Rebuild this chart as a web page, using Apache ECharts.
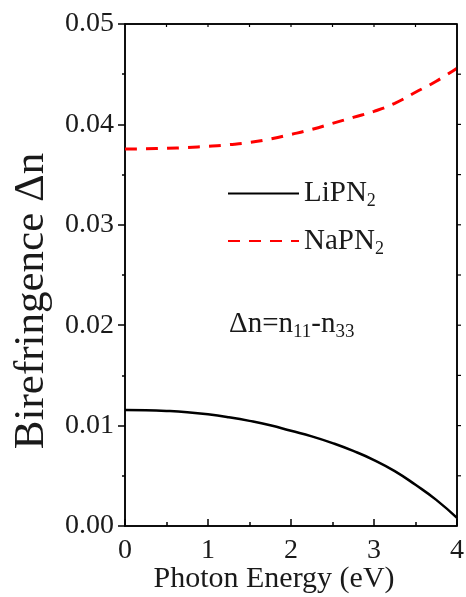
<!DOCTYPE html>
<html><head><meta charset="utf-8">
<script src="https://cdn.jsdelivr.net/npm/echarts@6/dist/echarts.min.js"></script>
<style>html,body{margin:0;padding:0;background:#fff}#c{width:466px;height:597px}</style>
</head><body><div id="c"></div>
<script>
const energy = [0, 0.25, 0.5, 0.75, 1, 1.25, 1.5, 1.75, 2, 2.25, 2.5, 2.75, 3, 3.25, 3.5, 3.75, 4];
const liPN2 = [0.01155, 0.01153, 0.01146, 0.01133, 0.01112, 0.01083, 0.01047, 0.01003, 0.00948, 0.00893, 0.00826, 0.00748, 0.00657, 0.00547, 0.00410, 0.00260, 0.00080];
const naPN2 = [0.03755, 0.03757, 0.03762, 0.03770, 0.03782, 0.03798, 0.03820, 0.03855, 0.03900, 0.03950, 0.04010, 0.04070, 0.04130, 0.04210, 0.04320, 0.04430, 0.04560];
const xTicks = [0, 1, 2, 3, 4];
const yTicks = ['0.00', '0.01', '0.02', '0.03', '0.04', '0.05'];
const topTicks = [0.5, 1, 1.5, 2, 2.5, 3, 3.5];
const rightTicks = [0.005, 0.01, 0.015, 0.02, 0.025, 0.03, 0.035, 0.04, 0.045];
const xMax = 4;
const yMax = 0.05;

const FONT = 'Liberation Serif';
const TXT = '#1a1a1a';
const chart = echarts.init(document.getElementById('c'));
chart.setOption({
  animation: false,
  textStyle: {fontFamily: FONT, color: TXT},
  grid: {left: 125, top: 24, right: 9, bottom: 71, outerBoundsMode: 'none',
    show: true, borderColor: '#000', borderWidth: 1.5},
  legend: {
    orient: 'vertical', left: 222, top: 174, itemWidth: 71, itemHeight: 20, itemGap: 16,
    data: ['LiPN2', 'NaPN2'],
    itemStyle: {color: 'rgba(0,0,0,0)', borderWidth: 0, opacity: 0},
    formatter: n => n.replace('2', '{s|2}'),
    textStyle: {fontFamily: FONT, fontSize: 29, color: TXT,
      rich: {s: {fontFamily: FONT, fontSize: 18, verticalAlign: 'bottom', padding: [16, 0, 0, 0], color: TXT}}}
  },
  xAxis: {
    type: 'value', min: 0, max: xMax, interval: 1,
    name: 'Photon Energy (eV)', nameLocation: 'middle', nameGap: 38, nameMoveOverlap: false,
    nameTextStyle: {fontFamily: FONT, fontSize: 30, color: TXT, padding: [0, 34, 0, 0]},
    axisLine: {show: true, onZero: false, lineStyle: {color: '#000', width: 1.5}}, splitLine: {show: false},
    axisTick: {inside: true, length: 7, lineStyle: {color: '#000', width: 1.5}},
    minorTick: {show: true, splitNumber: 2, length: 4, lineStyle: {color: '#000', width: 1.5}},
    axisLabel: {fontFamily: FONT, fontSize: 28, color: TXT, margin: 11, formatter: v => xTicks.includes(v) ? String(v) : ''}
  },
  yAxis: {
    type: 'value', min: 0, max: yMax, interval: 0.01,
    name: 'Birefringence Δn', nameLocation: 'middle', nameGap: 72, nameMoveOverlap: false,
    nameTextStyle: {fontFamily: FONT, fontSize: 43, color: TXT, padding: [0, 52, 0, 0]},
    axisLine: {show: true, onZero: false, lineStyle: {color: '#000', width: 1.5}}, splitLine: {show: false},
    axisTick: {inside: false, length: 7, lineStyle: {color: '#000', width: 1.5}},
    minorTick: {show: true, splitNumber: 2, length: 3, lineStyle: {color: '#000', width: 1.5}},
    axisLabel: {fontFamily: FONT, fontSize: 28, color: TXT, margin: 11, formatter: v => yTicks[Math.round(v * 100)]}
  },
  series: [{
    name: 'LiPN2', type: 'line', smooth: true, symbol: 'none',
    data: energy.map((x, i) => [x, liPN2[i]]),
    lineStyle: {color: '#000', width: 2.5}, itemStyle: {color: '#000'}
  }, {
    name: 'NaPN2', type: 'line', smooth: true, symbol: 'none',
    data: energy.map((x, i) => [x, naPN2[i]]),
    lineStyle: {color: '#ff0000', width: 3, type: [12, 9]}, itemStyle: {color: '#ff0000'}
  }, {
    name: 'frame', type: 'line', symbol: 'none', silent: true, clip: false, z: 5,
    data: [[0, yMax], [xMax, yMax], [xMax, 0]],
    lineStyle: {color: '#000', width: 1.5, type: 'solid'}, itemStyle: {color: '#000'}
  }, {
    name: 'frameTicks', type: 'custom', silent: true, clip: false, z: 5,
    data: topTicks.map(x => [x, yMax, 0]).concat(rightTicks.map(y => [xMax, y, 1])),
    renderItem: (params, api) => {
      const p = api.coord([api.value(0), api.value(1)]);
      const shape = api.value(2) === 0
        ? {x1: p[0], y1: p[1], x2: p[0], y2: p[1] + 3}
        : {x1: p[0], y1: p[1], x2: p[0] + 4, y2: p[1]};
      return {type: 'line', shape, style: {stroke: '#000', lineWidth: 1.2}};
    }
  }],
  graphic: [{
    type: 'text', left: 229, top: 310,
    style: {
      text: 'Δn=n{s|11}-n{s|33}', fontFamily: FONT, fontSize: 29, fill: TXT,
      rich: {s: {fontFamily: FONT, fontSize: 19, padding: [16, 0, 0, 0], verticalAlign: 'bottom', fill: TXT}}
    }
  }]
});
</script></body></html>
